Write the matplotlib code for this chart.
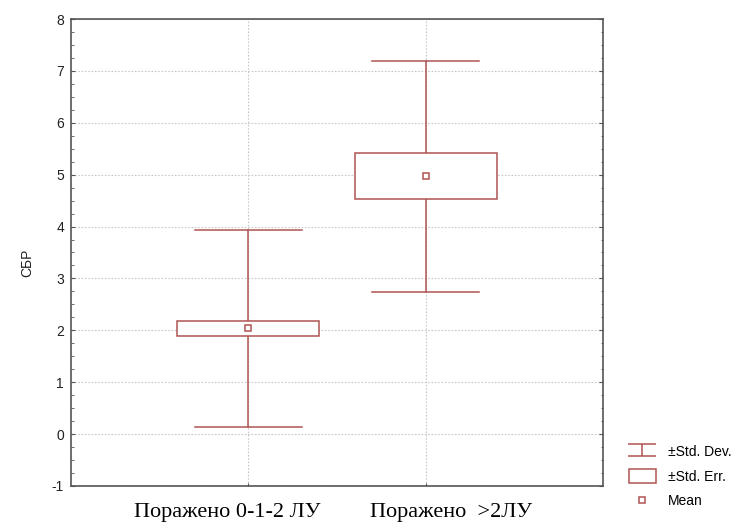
import matplotlib
matplotlib.use("Agg")
import matplotlib.pyplot as plt
from matplotlib.path import Path
from matplotlib.patches import Rectangle, Patch
from matplotlib.lines import Line2D
from matplotlib.ticker import MultipleLocator, FuncFormatter

# data
groups = ["Поражено 0-1-2 ЛУ", "Поражено  >2ЛУ"]
means = [2.04, 4.97]
std_err = [0.145, 0.445]
std_dev = [1.895, 2.23]

col = "#b05454"
box_w = 0.80
cap_w = 0.60

fig = plt.figure(figsize=(7.43, 5.22), dpi=100)
ax = fig.add_axes([0.0956, 0.069, 0.716, 0.8946])

xs = [1, 2]
for x, m, se, sd in zip(xs, means, std_err, std_dev):
    # whisker (±SD)
    ax.plot([x, x], [m - sd, m + sd], color=col, lw=1.1, zorder=2)
    for yy in (m - sd, m + sd):
        ax.plot([x - cap_w / 2, x + cap_w / 2], [yy, yy], color=col, lw=1.1, zorder=2)
    # box (±SE)
    ax.add_patch(Rectangle((x - box_w / 2, m - se), box_w, 2 * se,
                           facecolor="white", edgecolor=col, lw=1.1, zorder=3))
    # mean
    ax.plot(x, m, marker="s", ms=5, mfc="white", mec=col, mew=1.1, zorder=4)

ax.set_xlim(0, 3)
ax.set_ylim(-1, 8)
ax.set_xticks(xs)
ax.set_xticklabels([])
# group labels sit a bit off their ticks in the original
shifts = [-15.5, 18]
for x, g, dx in zip(xs, groups, shifts):
    ax.annotate(g, xy=(x, 0), xycoords=ax.get_xaxis_transform(),
                xytext=(dx, -22.3), textcoords="offset points",
                ha="center", va="baseline", family="Liberation Serif", fontsize=16)
ax.yaxis.set_major_locator(MultipleLocator(1))
ax.yaxis.set_minor_locator(MultipleLocator(0.25))
ax.yaxis.set_major_formatter(FuncFormatter(lambda v, p: "%d" % v))
ax.tick_params(axis="y", which="both", direction="in", right=True, labelsize=10,
               colors="#555555", labelcolor="#222222", pad=5)
ax.tick_params(axis="y", which="major", length=3)
ax.tick_params(axis="y", which="minor", length=1.8)
ax.tick_params(axis="x", direction="in", length=2.5, top=False, colors="#555555")
for lab in ax.get_yticklabels():
    lab.set_family("Liberation Sans")
ax.set_ylabel("СБР", family="Liberation Sans", fontsize=10, color="#222222")
ax.yaxis.set_label_coords(-0.069, 0.478)
ax.grid(True, which="major", color="#c8c8c8", ls=(0, (1.5, 1.5)), lw=0.8)
ax.set_axisbelow(True)
for s in ax.spines.values():
    s.set_color("#555555")
    s.set_linewidth(1.2)

# legend
ibeam = Path([(-1, 0.43), (1, 0.43), (0, 0.43), (0, -0.43), (-1, -0.43), (1, -0.43)],
             [Path.MOVETO, Path.LINETO, Path.MOVETO, Path.LINETO, Path.MOVETO, Path.LINETO])
handles = [
    Line2D([], [], marker=ibeam, ms=20, ls="none", mec=col, mew=1.1, mfc="none"),
    Patch(facecolor="white", edgecolor=col, lw=1.1),
    Line2D([], [], marker="s", ms=5, ls="none", mfc="white", mec=col, mew=1.1),
]
labels = ["±Std. Dev.", "±Std. Err.", "Mean"]
fig.legend(handles, labels, loc="lower left", bbox_to_anchor=(0.846, 0.026),
           frameon=False, prop={"family": "Liberation Sans", "size": 10},
           handlelength=2.0, handleheight=1.1, handletextpad=0.85, labelspacing=0.75,
           borderaxespad=0, borderpad=0)

fig.savefig("out.png", dpi=100)
